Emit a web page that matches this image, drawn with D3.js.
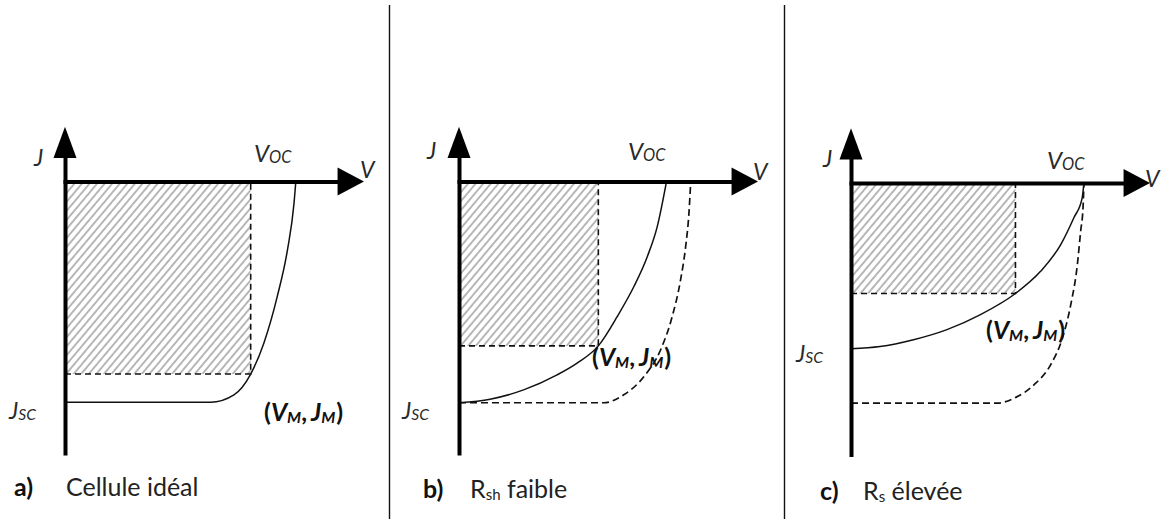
<!DOCTYPE html>
<html>
<head>
<meta charset="utf-8">
<script src="https://cdn.jsdelivr.net/npm/d3@7"></script>
<style>
  html, body { margin: 0; padding: 0; background: #fff; }
  svg { display: block; }
  text { font-family: Lato, "Open Sans", sans-serif; }
</style>
</head>
<body>
<svg id="chart" width="1166" height="519"></svg>
<script>
// J–V characteristics of a solar cell, J drawn negative below the V axis (normalised units)
const panelTags = ["a)", "b)", "c)"];
const captionMain = ["Cellule idéal", "R", "R"];
const captionSub = ["", "sh", "s"];
const captionRest = ["", " faible", " élevée"];

// a) ideal cell
const solidA_V = [0, 0.487, 0.565, 0.621, 0.665, 0.710, 0.744, 0.766, 0.772];
const solidA_J = [-0.807, -0.807, -0.780, -0.704, -0.591, -0.420, -0.250, -0.079, 0];

// b) low shunt resistance (solid) against the ideal curve (dashed)
const solidB_V = [0, 0.104, 0.216, 0.328, 0.395, 0.466, 0.529, 0.585, 0.630, 0.663, 0.694];
const solidB_J = [-0.809, -0.796, -0.762, -0.707, -0.664, -0.601, -0.494, -0.384, -0.274, -0.165, 0];
const dashB_V = [0, 0.484, 0.551, 0.618, 0.674, 0.713, 0.741, 0.758, 0.769, 0.775];
const dashB_J = [-0.809, -0.809, -0.780, -0.714, -0.616, -0.494, -0.360, -0.238, -0.116, 0];

// c) high series resistance (solid) against the ideal curve (dashed)
const solidC_V = [0, 0.097, 0.209, 0.321, 0.433, 0.550, 0.634, 0.701, 0.745, 0.773, 0.779];
const solidC_J = [-0.606, -0.598, -0.573, -0.536, -0.481, -0.404, -0.323, -0.226, -0.128, -0.055, 0];
const dashC_V = [0, 0.489, 0.545, 0.612, 0.668, 0.707, 0.735, 0.757, 0.768, 0.776, 0.779];
const dashC_J = [-0.805, -0.805, -0.787, -0.738, -0.664, -0.567, -0.445, -0.299, -0.177, -0.091, 0];

// maximum power point of each panel
const maxPowerV = [0.621, 0.466, 0.550];
const maxPowerJ = [-0.704, -0.601, -0.404];

const solidCurves = [[solidA_V, solidA_J], [solidB_V, solidB_J], [solidC_V, solidC_J]];
const dashCurves = [null, [dashB_V, dashB_J], [dashC_V, dashC_J]];

// panel geometry and label placement
const layout = [
  { x0: 65,  y0: 181.5, J: [34, 166],  Voc: [254, 162],  V: [360, 178],  Jsc: [9, 419],   mp: [264, 421],  tag: [14, 496],  cap: [66, 496] },
  { x0: 459, y0: 181.5, J: [427, 159], Voc: [628, 160],  V: [753, 180],  Jsc: [402, 419], mp: [592, 366],  tag: [423, 498], cap: [470, 498] },
  { x0: 851, y0: 183,   J: [823, 167], Voc: [1047, 169], V: [1145, 187], Jsc: [796, 362], mp: [986, 339],  tag: [820, 500], cap: [863, 500] }
];

const svg = d3.select("#chart");

// diagonal hatching for the maximum-power rectangle
const defs = svg.append("defs");
defs.append("pattern")
    .attr("id", "hatch")
    .attr("patternUnits", "userSpaceOnUse")
    .attr("width", 5.8)
    .attr("height", 10)
    .attr("patternTransform", "rotate(40)")
  .append("line")
    .attr("x1", 1).attr("y1", 0)
    .attr("x2", 1).attr("y2", 10)
    .attr("stroke", "#a6a6a6")
    .attr("stroke-width", 1.6);

// panel separators
[389.5, 784.5].forEach(px => {
  svg.append("line")
    .attr("x1", px).attr("x2", px)
    .attr("y1", 5).attr("y2", 519)
    .attr("stroke", "#111").attr("stroke-width", 1.4);
});

layout.forEach((L, i) => {
  const g = svg.append("g");
  const x = d3.scaleLinear().domain([0, 1]).range([L.x0, L.x0 + 299]);
  const y = d3.scaleLinear().domain([-1, 0]).range([L.y0 + 273.5, L.y0]);

  // hatched power rectangle
  g.append("rect")
    .attr("x", x(0)).attr("y", y(0))
    .attr("width", x(maxPowerV[i]) - x(0))
    .attr("height", y(maxPowerJ[i]) - y(0))
    .attr("fill", "url(#hatch)");

  // dashed guides to the maximum power point
  const guide = d3.line().x(d => x(d[0])).y(d => y(d[1]));
  g.append("path")
    .attr("d", guide([[0, maxPowerJ[i]], [maxPowerV[i], maxPowerJ[i]], [maxPowerV[i], 0]]))
    .attr("fill", "none").attr("stroke", "#111")
    .attr("stroke-width", 1.6).attr("stroke-dasharray", "6,4");

  const curve = d3.line().x(d => x(d[0])).y(d => y(d[1])).curve(d3.curveMonotoneX);

  if (dashCurves[i]) {
    const [vs, js] = dashCurves[i];
    g.append("path")
      .attr("d", curve(vs.map((v, k) => [v, js[k]])))
      .attr("fill", "none").attr("stroke", "#111")
      .attr("stroke-width", 1.7).attr("stroke-dasharray", "7,4");
  }
  const [sv, sj] = solidCurves[i];
  g.append("path")
    .attr("d", curve(sv.map((v, k) => [v, sj[k]])))
    .attr("fill", "none").attr("stroke", "#111")
    .attr("stroke-width", 1.5);

  // axes: bare domain lines from the scales, finished with arrowheads
  const vArrowBase = 0.915;
  const jArrowTip = 0.2, jArrowBase = 0.09;
  const xAxisScale = x.copy().domain([0, vArrowBase]).range([x(0) - 2, x(vArrowBase)]);
  const yAxisScale = y.copy().domain([-1, jArrowBase]).range([y(-1), y(jArrowBase)]);

  g.append("g")
    .attr("transform", `translate(0,${y(0)})`)
    .call(d3.axisBottom(xAxisScale).ticks(0).tickSizeOuter(0))
    .call(s => s.select(".domain").attr("stroke", "#000").attr("stroke-width", 4));
  g.append("g")
    .attr("transform", `translate(${x(0)},0)`)
    .call(d3.axisLeft(yAxisScale).ticks(0).tickSizeOuter(0))
    .call(s => s.select(".domain").attr("stroke", "#000").attr("stroke-width", 4));

  g.append("path")
    .attr("d", `M${x(1)},${y(0)} L${x(vArrowBase) - 1},${y(0) - 14} L${x(vArrowBase) - 1},${y(0) + 14} Z`)
    .attr("fill", "#000");
  g.append("path")
    .attr("d", `M${x(0)},${y(jArrowTip)} L${x(0) - 11.5},${y(jArrowBase) + 1} L${x(0) + 11.5},${y(jArrowBase) + 1} Z`)
    .attr("fill", "#000");

  // axis and point labels
  const italic = (pos, main, sub, size) => {
    const t = g.append("text")
      .attr("x", pos[0]).attr("y", pos[1])
      .attr("font-style", "italic").attr("font-size", size)
      .attr("fill", "#2a2a2a");
    t.append("tspan").text(main);
    if (sub) t.append("tspan").attr("font-size", size * 0.68).attr("dy", 1).text(sub);
    return t;
  };
  italic(L.J, "J", null, 23);
  italic(L.V, "V", null, 23);
  italic(L.Voc, "V", "OC", 24);
  italic(L.Jsc, "J", "SC", 23);

  const mp = g.append("text")
    .attr("x", L.mp[0]).attr("y", L.mp[1])
    .attr("font-weight", "bold").attr("font-size", 25).attr("fill", "#111");
  mp.append("tspan").text("(");
  mp.append("tspan").attr("font-style", "italic").text("V");
  mp.append("tspan").attr("font-style", "italic").attr("font-size", 16).attr("dy", 2).text("M");
  mp.append("tspan").attr("dy", -2).text(",");
  mp.append("tspan").attr("font-style", "italic").attr("dx", 4).text("J");
  mp.append("tspan").attr("font-style", "italic").attr("font-size", 16).attr("dy", 2).text("M");
  mp.append("tspan").attr("dy", -2).attr("dx", 1).text(")");

  // caption
  g.append("text")
    .attr("x", L.tag[0]).attr("y", L.tag[1])
    .attr("font-weight", "bold").attr("font-size", 25).attr("fill", "#111")
    .text(panelTags[i]);
  const cap = g.append("text")
    .attr("x", L.cap[0]).attr("y", L.cap[1])
    .attr("font-size", 25).attr("fill", "#222");
  cap.append("tspan").text(captionMain[i]);
  if (captionSub[i]) {
    cap.append("tspan").attr("font-size", 15).attr("dy", 2).text(captionSub[i]);
    cap.append("tspan").attr("dy", -2).text(captionRest[i]);
  }
});
</script>
</body>
</html>
